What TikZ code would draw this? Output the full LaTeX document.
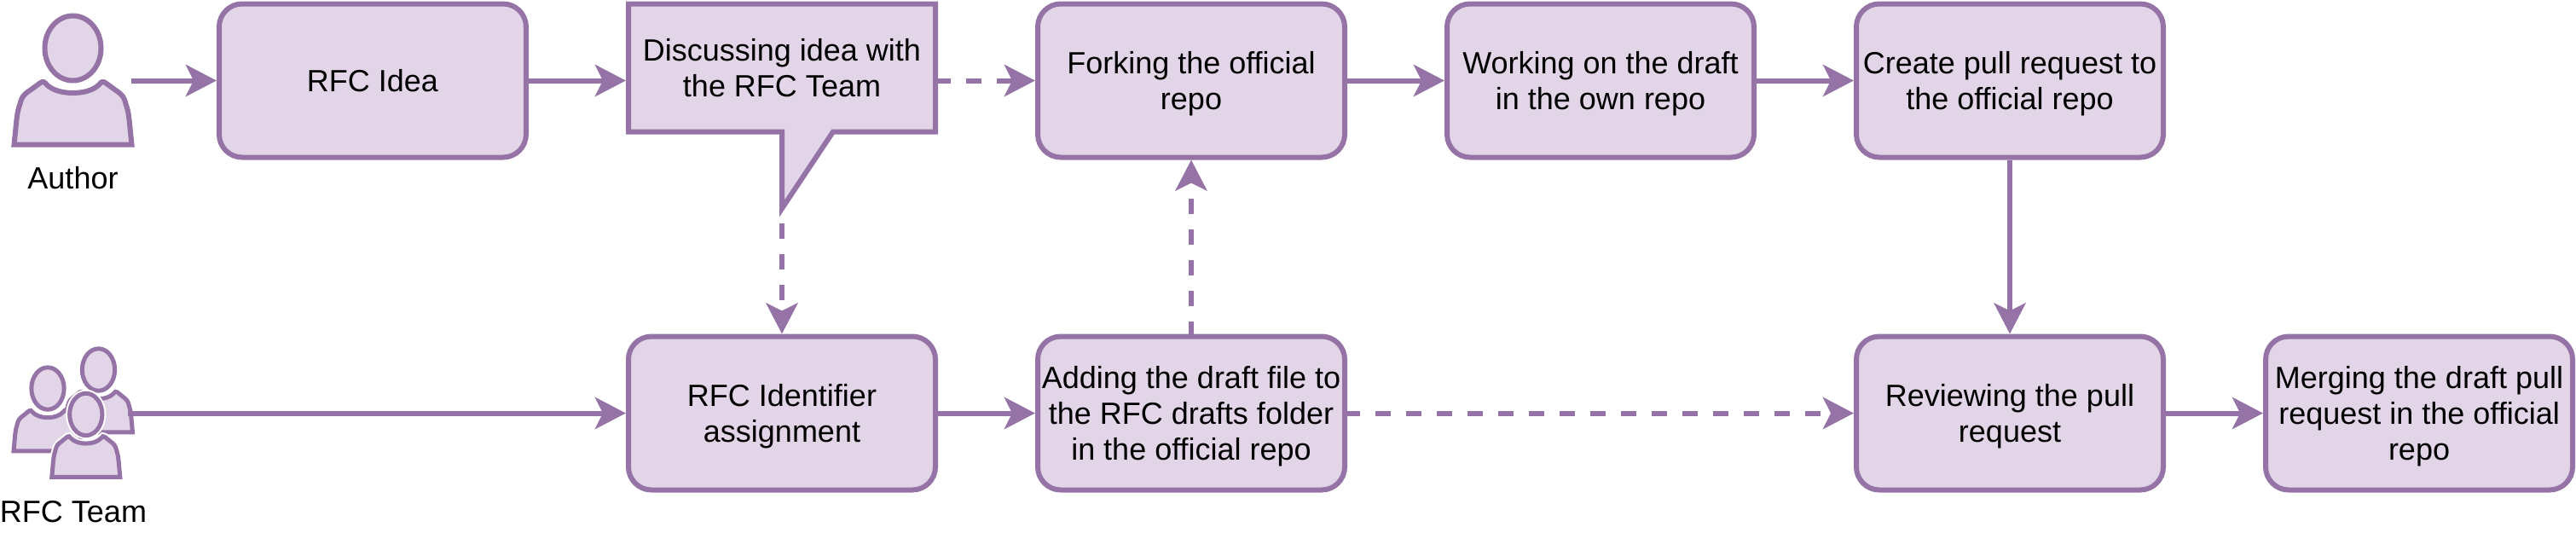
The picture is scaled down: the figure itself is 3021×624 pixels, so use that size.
\documentclass[tikz,border=0pt]{standalone}
\usepackage{fontspec}
\setmainfont{Liberation Sans}
\usepackage{xcolor}
\usetikzlibrary{arrows.meta}
\definecolor{rfcfill}{HTML}{E1D5E7}
\definecolor{rfcline}{HTML}{9673A6}
% pushes a stack of lines down a little inside its box
\newcommand{\lowerlines}{\rule{0pt}{34pt}}
\tikzset{
    flowbox/.style={draw=rfcline, fill=rfcfill, line width=6pt, rounded corners=27pt,
        minimum width=360pt, minimum height=180pt, inner sep=0pt, align=center,
        font=\fontsize{36}{42}\selectfont},
    flowarrow/.style={draw=rfcline, line width=6pt, -{Stealth[length=36pt,width=37pt,inset=9pt]}},
    dashflow/.style={flowarrow, dash pattern=on 18pt off 18pt},
    personline/.style={draw=rfcline, fill=rfcfill, line width=5pt},
    personlabel/.style={font=\fontsize{36}{42}\selectfont, inner sep=0pt},
    personicon/.pic={
        \path[personline] (0,-35.5) ellipse (33 and 38);
        \path[personline] (-69,77.5) .. controls (-66,50) and (-66,40) .. (-62,30)
            .. controls (-60,20) and (-55,17) .. (-49,13) -- (-38,5)
            .. controls (-35,3) and (-33,4) .. (-31,7)
            .. controls (-24,14) and (-12,17) .. (0,17)
            .. controls (12,17) and (24,14) .. (31,7)
            .. controls (33,4) and (35,3) .. (38,5) -- (49,13)
            .. controls (55,17) and (60,20) .. (62,30)
            .. controls (66,40) and (66,50) .. (69,77.5) -- cycle;
    }
}
\begin{document}
\begin{tikzpicture}[x=1pt,y=-1pt]
    \useasboundingbox (0,0) rectangle (3021,624);

    % People
    \pic[personline/.append style={line width=6pt}] at (85.5,92) {personicon};
    \node[personlabel] (author) at (85.5,209) {Author};
    \coordinate (authorOut) at (154,94.5);

    \pic[xscale=0.58,yscale=0.65] at (115.5,456.6) {personicon};
    \pic[xscale=0.58,yscale=0.65] at (56,478.6) {personicon};
    \pic[xscale=0.58,yscale=0.65,personline/.append style={draw=white,line width=9pt}] at (100.8,509) {personicon};
    \pic[xscale=0.58,yscale=0.65] at (100.8,509) {personicon};
    \node[personlabel] (team) at (86,600) {RFC Team};
    \coordinate (teamOut) at (150,484.5);

    % Top row
    \node[flowbox] (idea) at (437,94.5) {RFC Idea};
    \draw[draw=rfcline, fill=rfcfill, line width=6pt] (737,4.5) -- (1097,4.5) -- (1097,154.5) -- (977,154.5)
        -- (917,244.5) -- (917,154.5) -- (737,154.5) -- cycle;
    \node[flowbox, draw=none, fill=none, minimum height=150pt] (discuss) at (917,79.5) {Discussing idea with\\the RFC Team};
    \coordinate (discussTip) at (917,262);
    \node[flowbox] (fork) at (1397,94.5) {\lowerlines Forking the official\\repo};
    \node[flowbox] (work) at (1877,94.5) {\lowerlines Working on the draft\\in the own repo};
    \node[flowbox] (create) at (2357,94.5) {\lowerlines Create pull request to\\the official repo};

    % Bottom row
    \node[flowbox] (identifier) at (917,484.5) {\lowerlines RFC Identifier\\assignment};
    \node[flowbox] (draft) at (1397,484.5) {\lowerlines Adding the draft file to\\the RFC drafts folder\\in the official repo};
    \node[flowbox] (review) at (2357,484.5) {\lowerlines Reviewing the pull\\request};
    \node[flowbox] (merge) at (2837,484.5) {\lowerlines Merging the draft pull\\request in the official\\repo};

    % Connectors
    \draw[flowarrow] (authorOut) -- (idea);
    \draw[flowarrow] (idea) -- (discuss.west |- idea);
    \draw[dashflow, dash phase=3pt] (discuss.east |- fork) -- (fork);
    \draw[flowarrow] (fork) -- (work);
    \draw[flowarrow] (work) -- (create);
    \draw[flowarrow] (create) -- (review);
    \draw[dashflow] (discussTip) -- (identifier);
    \draw[dashflow, dash phase=3pt] (draft) -- (fork);
    \draw[flowarrow] (teamOut) -- (identifier);
    \draw[flowarrow] (identifier) -- (draft);
    \draw[dashflow, dash phase=3pt] (draft) -- (review);
    \draw[flowarrow] (review) -- (merge);
\end{tikzpicture}
\end{document}
